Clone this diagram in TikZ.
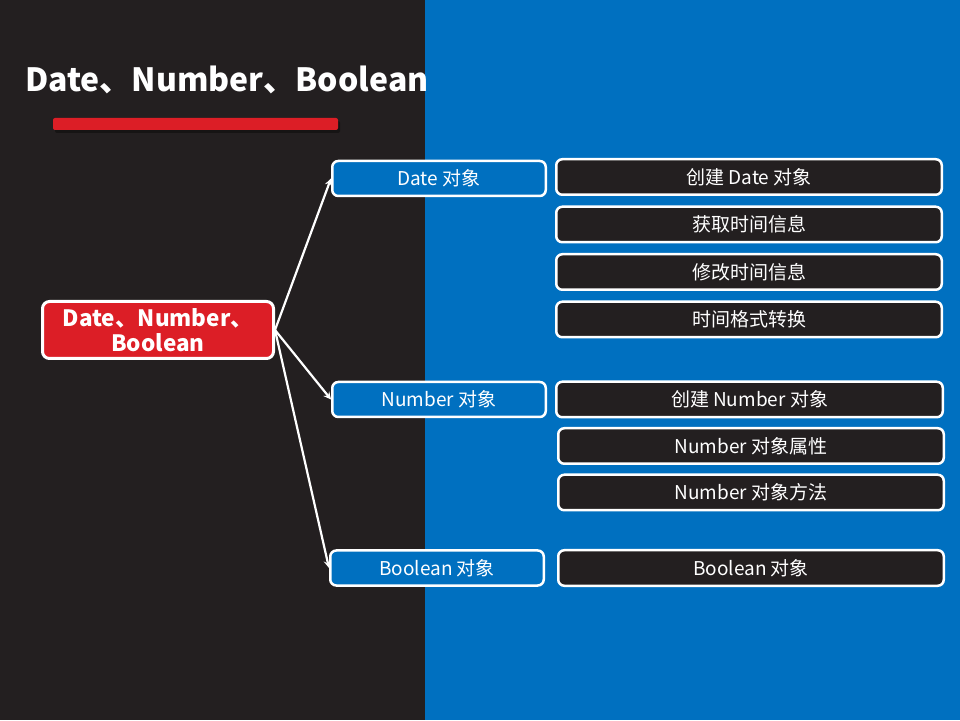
\documentclass[tikz,border=0pt]{standalone}
\usepackage{fontspec}
\setmainfont{Noto Sans CJK SC}
\usepackage{tikz}
\usetikzlibrary{arrows,shapes,positioning,shadows}
\usepackage{xcolor}
\definecolor{pgdark}{RGB}{35,31,32}
\definecolor{pgblue}{RGB}{0,112,192}
\definecolor{pgred}{RGB}{220,30,38}
\tikzstyle{arrow} = [line width=2.2pt,->,>=stealth,color=white]
\tikzstyle{rootbox} = [rectangle, rounded corners=7pt, minimum width=231pt, minimum height=57pt, align=center, draw=white, fill=pgred, line width=3pt, text=white, font=\fontsize{22.5}{25}\selectfont\bfseries, inner sep=2pt]
\tikzstyle{objbox} = [rectangle, rounded corners=6pt, minimum width=213.5pt, minimum height=35pt, text centered, draw=white, fill=pgblue, line width=2.5pt, text=white, font=\fontsize{19}{22}\selectfont, inner sep=2pt]
\tikzstyle{itembox} = [rectangle, rounded corners=6pt, minimum width=385.5pt, minimum height=35.5pt, text centered, draw=white, fill=pgdark, line width=2.5pt, text=white, font=\fontsize{19}{22}\selectfont, inner sep=2pt]

\begin{document}
\begin{tikzpicture}[node distance=47.5pt]
\useasboundingbox (0,0) rectangle (960pt,720pt);
% two-tone background
\fill[pgdark] (0,0) rectangle (425pt,720pt);
\fill[pgblue] (425pt,0) rectangle (960pt,720pt);

% title and underline
\node (title) [anchor=west, inner sep=0pt, text=white, font=\fontsize{32}{35}\selectfont\bfseries] at (25pt,640pt) {Date、Number、Boolean};
\fill[black, opacity=0.35, rounded corners=2pt] (55pt,587pt) rectangle (340pt,599pt);
\fill[pgred, rounded corners=2pt] (53pt,590pt) rectangle (338pt,602pt);

% root
\node (root) [rootbox] at (158pt,390pt) {Date、Number、\\Boolean};

% object boxes
\node (datebox) [objbox] at (439pt,541.5pt) {Date 对象};
\node (numbox) [objbox] at (439pt,320.5pt) {Number 对象};
\node (boolbox) [objbox] at (437pt,152pt) {Boolean 对象};

% Date items
\node (d1) [itembox, right=8pt of datebox, yshift=1.5pt] {创建 Date 对象};
\node (d2) [itembox, below of=d1] {获取时间信息};
\node (d3) [itembox, below of=d2] {修改时间信息};
\node (d4) [itembox, below of=d3] {时间格式转换};

% Number items
\node (n1) [itembox, right=8pt of numbox, minimum width=386.5pt] {创建 Number 对象};
\node (n2) [itembox, below of=n1, node distance=46.5pt, xshift=1.5pt] {Number 对象属性};
\node (n3) [itembox, below of=n2, node distance=46.5pt] {Number 对象方法};

% Boolean item
\node (b1) [itembox, right=12pt of boolbox] {Boolean 对象};

\draw[arrow] (root.east) -- (datebox.west);
\draw[arrow] (root.east) -- (numbox.west);
\draw[arrow] (root.east) -- (boolbox.west);
\end{tikzpicture}
\end{document}
